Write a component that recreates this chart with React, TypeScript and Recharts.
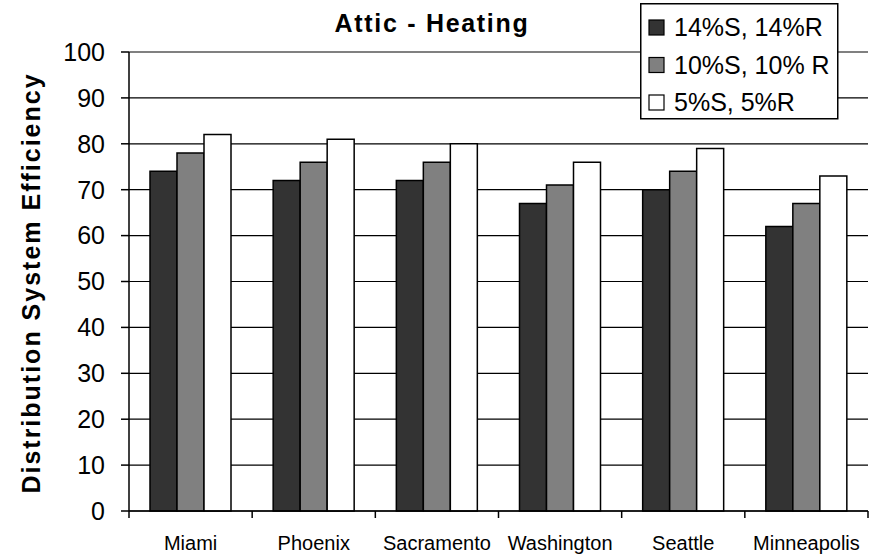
import {
  Bar,
  BarChart,
  CartesianGrid,
  Legend,
  ReferenceLine,
  XAxis,
  YAxis,
} from "recharts";

const cities = ["Miami", "Phoenix", "Sacramento", "Washington", "Seattle", "Minneapolis"];
const leak14 = [74, 72, 72, 67, 70, 62];
const leak10 = [78, 76, 76, 71, 74, 67];
const leak5 = [82, 81, 80, 76, 79, 73];
const yTicks = [0, 10, 20, 30, 40, 50, 60, 70, 80, 90, 100];

const series = [
  { key: "s14", name: "14%S, 14%R", fill: "#333333" },
  { key: "s10", name: "10%S, 10% R", fill: "#808080" },
  { key: "s5", name: "5%S, 5%R", fill: "#ffffff" },
];

const data = cities.map((city, i) => ({
  city,
  s14: leak14[i],
  s10: leak10[i],
  s5: leak5[i],
}));

const FONT = '"Liberation Sans", Arial, Helvetica, sans-serif';
const W = 870;
const H = 559;
const Y_AXIS_W = 129;
const RIGHT = 2;
const BAND = (W - Y_AXIS_W - RIGHT) / cities.length;

// category label in the middle, tick marks on the band edges
const CityTick = (props: any) => {
  const { x, y, payload, index } = props;
  const left = x - BAND / 2;
  const right = x + BAND / 2;
  return (
    <g>
      <line x1={left} y1={y} x2={left} y2={y + 7} stroke="#000" strokeWidth={1.5} />
      {index === cities.length - 1 && (
        <line x1={right} y1={y} x2={right} y2={y + 7} stroke="#000" strokeWidth={1.5} />
      )}
      <text x={x} y={y + 39} textAnchor="middle" fontSize={20} fill="#000" fontFamily={FONT}>
        {payload.value}
      </text>
    </g>
  );
};

const LegendBox = () => (
  <svg width={200} height={118} style={{ display: "block" }}>
    <rect x={0.75} y={0.75} width={197} height={115} fill="#fff" stroke="#000" strokeWidth={1.5} />
    {series.map((s, i) => (
      <g key={s.key}>
        <rect x={9} y={17 + i * 37.5} width={15} height={15} fill={s.fill} stroke="#000" strokeWidth={1.2} />
        <text x={34} y={33 + i * 37.5} fontSize={25} fill="#000" fontFamily={FONT}>
          {s.name}
        </text>
      </g>
    ))}
  </svg>
);

export default function App() {
  return (
    <div style={{ position: "absolute", left: 0, top: 0, width: W, height: H, background: "#fff" }}>
      <BarChart
        width={W}
        height={H}
        data={data}
        margin={{ top: 52, right: RIGHT, bottom: 0, left: 0 }}
        barCategoryGap={21}
        barGap={0}
      >
        <text x={432} y={32} textAnchor="middle" fontSize={25} fontWeight="bold" letterSpacing={1.7} fontFamily={FONT} fill="#000">
          Attic - Heating
        </text>
        <text
          x={40}
          y={283}
          transform="rotate(-90 40 283)"
          textAnchor="middle"
          fontSize={25}
          fontWeight="bold"
          letterSpacing={2}
          fontFamily={FONT}
          fill="#000"
        >
          Distribution System Efficiency
        </text>
        <CartesianGrid vertical={false} stroke="#000" strokeWidth={1.2} yAxisId="l" />
        <XAxis
          dataKey="city"
          height={48}
          tickLine={false}
          tickSize={0}
          tickMargin={0}
          tick={<CityTick />}
          interval={0}
          axisLine={{ stroke: "#000", strokeWidth: 1.5 }}
        />
        <YAxis
          yAxisId="l"
          width={Y_AXIS_W}
          domain={[0, 100]}
          ticks={yTicks}
          interval={0}
          tickSize={8}
          tickMargin={16}
          tickLine={{ stroke: "#000", strokeWidth: 1.5 }}
          axisLine={{ stroke: "#000", strokeWidth: 1.5 }}
          tick={{ fontSize: 25, fill: "#000", fontFamily: FONT }}
        />
        <YAxis
          yAxisId="r"
          orientation="right"
          width={0}
          domain={[0, 100]}
          tick={false}
          tickLine={false}
          axisLine={{ stroke: "#808080", strokeWidth: 1.5 }}
        />
        <ReferenceLine yAxisId="l" y={100} stroke="#808080" strokeWidth={1.5} />
        {series.map((s) => (
          <Bar
            key={s.key}
            yAxisId="l"
            dataKey={s.key}
            name={s.name}
            fill={s.fill}
            stroke="#000"
            strokeWidth={1.5}
            isAnimationActive={false}
          />
        ))}
        <Legend
          layout="horizontal"
          verticalAlign="middle"
          align="center"
          content={<LegendBox />}
          wrapperStyle={{ position: "absolute", left: 640, top: 3, width: 200, height: 118 }}
        />
      </BarChart>
    </div>
  );
}
